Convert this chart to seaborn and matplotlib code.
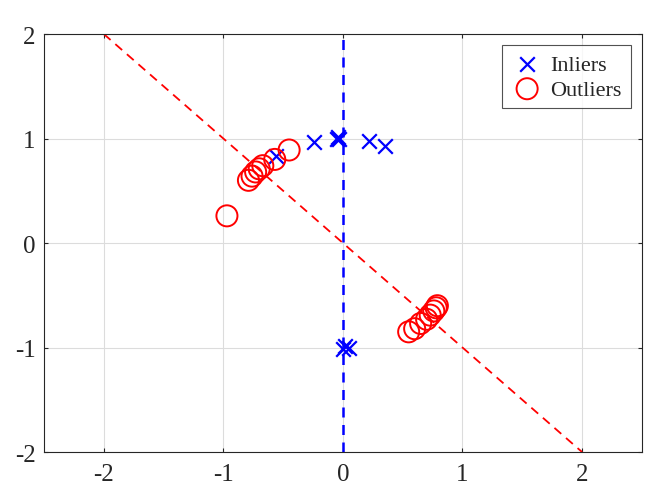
import pandas as pd
import matplotlib
matplotlib.use("Agg")
import matplotlib.pyplot as plt
import seaborn as sns

# inliers (blue x)
inlier_x = [-0.24, -0.05, -0.03, -0.04, 0.22, 0.35, -0.56, 0.0, 0.05, 0.02]
inlier_y = [0.97, 1.0, 1.0, 1.01, 0.98, 0.93, 0.83, -1.01, -1.0, -0.99]

# outliers (red o)
outlier_x = [-0.97, -0.45, -0.57, -0.67, -0.70, -0.73, -0.76, -0.79,
             0.55, 0.60, 0.65, 0.70, 0.73, 0.76, 0.78, 0.79]
outlier_y = [0.26, 0.89, 0.80, 0.74, 0.71, 0.68, 0.64, 0.60,
             -0.85, -0.82, -0.77, -0.73, -0.69, -0.65, -0.62, -0.60]

line_ends = [-2, 2]

sns.set_style("white")
plt.rcParams['font.family'] = ['Liberation Serif', 'DejaVu Serif']
plt.rcParams['axes.unicode_minus'] = False

fig = plt.figure(figsize=(6.47, 4.89), dpi=100)
ax = fig.add_axes([0.068, 0.0736, 0.924, 0.8548])

df_in = pd.DataFrame({"x": inlier_x, "y": inlier_y})
df_out = pd.DataFrame({"x": outlier_x, "y": outlier_y})

# reference lines
ax.plot([0, 0], line_ends, color="blue", linestyle=(0, (4, 3)), linewidth=1.8, zorder=2)
ax.plot(line_ends, [-v for v in line_ends], color="red", linestyle=(0, (5, 3.5)), linewidth=1.3, zorder=2)

sns.scatterplot(data=df_in, x="x", y="y", marker="x", color="blue", s=110,
                linewidth=1.6, ax=ax, label="Inliers", zorder=3)
sns.scatterplot(data=df_out, x="x", y="y", marker="o", facecolor="none", edgecolor="red",
                s=230, linewidth=1.4, ax=ax, label="Outliers", zorder=3)

ax.set_xlim(-2.5, 2.5)
ax.set_ylim(-2, 2)
ax.set_xticks([-2, -1, 0, 1, 2])
ax.set_yticks([-2, -1, 0, 1, 2])
ax.set_xlabel("")
ax.set_ylabel("")
ax.grid(True, color="#dcdcdc", linewidth=0.8)
ax.set_axisbelow(True)
ax.tick_params(direction="in", labelsize=18, length=3, color="#262626",
               top=True, right=True, bottom=True, left=True)
ax.tick_params(axis="x", pad=8)
ax.tick_params(axis="y", pad=6)
for sp in ax.spines.values():
    sp.set_color("#262626")
    sp.set_linewidth(0.8)

leg = ax.legend(loc="upper right", fontsize=16, frameon=True, fancybox=False,
                edgecolor="#262626", borderpad=0.4, handletextpad=0.3,
                labelspacing=0.2, borderaxespad=0.5, handlelength=1.5)
leg.get_frame().set_linewidth(0.8)

fig.savefig("out.png", dpi=100)
